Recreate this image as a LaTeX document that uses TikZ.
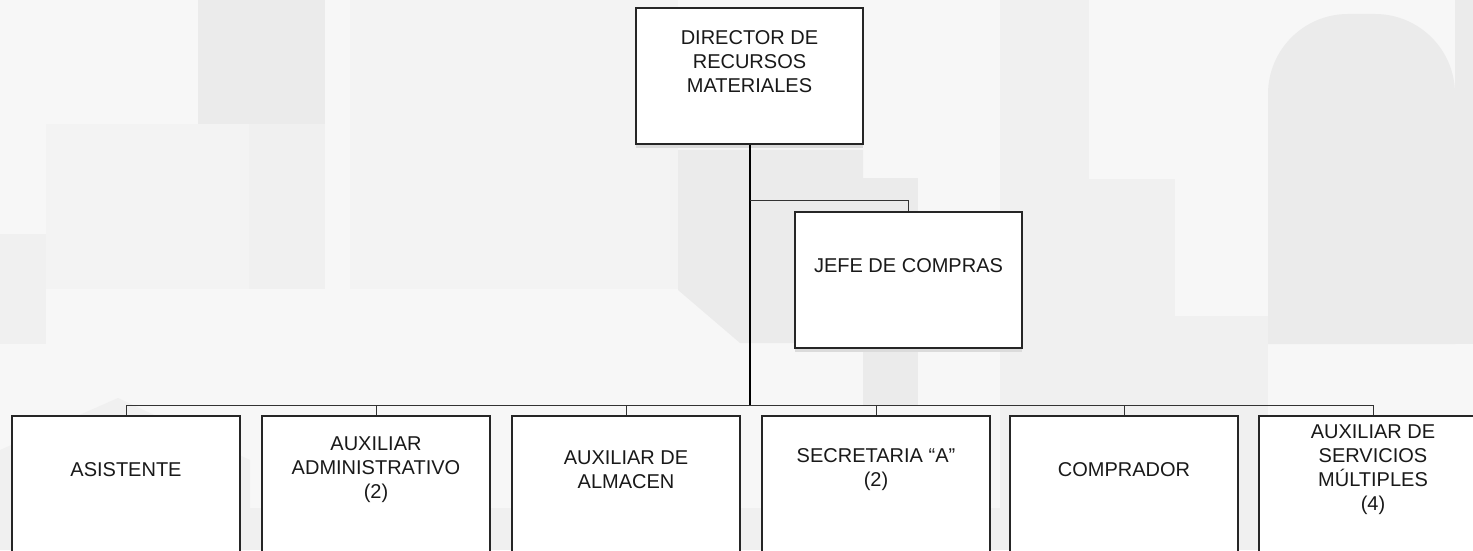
\documentclass[tikz,border=0pt]{standalone}
\usepackage{fontspec}
\setmainfont{Liberation Sans}
\usetikzlibrary{shadows}
\definecolor{wmBase}{HTML}{F7F7F7}
\definecolor{wmA}{HTML}{F0F0F0}
\definecolor{wmB}{HTML}{F3F3F3}
\definecolor{wmC}{HTML}{EBEBEB}
\begin{document}
\begin{tikzpicture}[
x=1pt,y=1pt,
font=\fontsize{20}{24}\selectfont,
orgbox/.style={draw=black!85,line width=1.2pt,fill=white,minimum width=227pt,minimum height=136pt,inner sep=0pt,
  drop shadow={shadow xshift=0pt,shadow yshift=-4pt,fill=black!14,opacity=1}},
orgtext/.style={align=center,inner sep=0pt,text=black!90},
trunk/.style={line width=2pt,black},
link/.style={line width=1pt,black!80}
]
\clip (0,0) rectangle (1473,550);
% faint watermark behind the chart
\fill[wmBase] (0,0) rectangle (1473,550);
\fill[wmC] (198,426) rectangle (325,550);
\fill[wmA] (249,261) rectangle (325,426);
\fill[wmB] (46,261) rectangle (249,426);
\fill[wmA] (0,206) rectangle (46,316);
\fill[wmB] (350,261) rectangle (678,550);
\fill[wmC] (678,400) -- (863,400) -- (863,207) -- (740,207) -- (678,260) -- cycle;
\fill[wmC] (863,145) rectangle (918,372);
\fill[wmA] (1000,0) rectangle (1089,550);
\fill[wmA] (1089,0) rectangle (1175,371);
\fill[wmA] (1175,0) rectangle (1268,234);
\fill[wmC,rounded corners=80] (1268,206) -- (1268,536) -- (1455,536) [sharp corners] -- (1455,206) -- cycle;
\fill[wmC] (1455,206) rectangle (1473,550);
\fill[wmA] (0,0) rectangle (1473,42);
\fill[wmA] (0,100) -- (118,152) -- (250,90) -- (250,0) -- (0,0) -- cycle;

\node[orgbox] (director) at (749.5,474) {};
\node[orgtext] (directorT) at ([yshift=14pt]director.center) {DIRECTOR DE\\RECURSOS\\MATERIALES};
\node[orgbox] (jefe) at (908.5,270) {};
\node[orgtext] (jefeT) at ([yshift=14pt]jefe.center) {JEFE DE COMPRAS};

\node[orgbox,minimum width=228pt] (asistente) at (126,66) {};
\node[orgtext] (asistenteT) at ([yshift=14pt]asistente.center) {ASISTENTE};
\node[orgbox,minimum width=228pt] (auxadmin) at (376,66) {};
\node[orgtext] (auxadminT) at ([yshift=14pt]auxadmin.center) {AUXILIAR\\ADMINISTRATIVO\\(2)};
\node[orgbox,minimum width=228pt] (auxalmacen) at (626,66) {};
\node[orgtext] (auxalmacenT) at ([yshift=14pt]auxalmacen.center) {AUXILIAR DE\\ALMACEN};
\node[orgbox,minimum width=228pt] (secretaria) at (876,66) {};
\node[orgtext] (secretariaT) at ([yshift=14pt]secretaria.center) {SECRETARIA “A”\\(2)};
\node[orgbox,minimum width=228pt] (comprador) at (1124,66) {};
\node[orgtext] (compradorT) at ([yshift=14pt]comprador.center) {COMPRADOR};
\node[orgbox,minimum width=228pt] (auxservicios) at (1373,66) {};
\node[orgtext] (auxserviciosT) at ([yshift=14pt]auxservicios.center) {AUXILIAR DE\\SERVICIOS\\MÚLTIPLES\\(4)};

\coordinate (tap) at (749.5,349);
\coordinate (bus) at (749.5,145);
\draw[trunk] (director.south) -- (bus);
\draw[link] (tap) -| (jefe.north);
\foreach \b in {asistente,auxadmin,auxalmacen,secretaria,comprador,auxservicios}
 \draw[link] (bus) -| (\b.north);
\end{tikzpicture}
\end{document}
